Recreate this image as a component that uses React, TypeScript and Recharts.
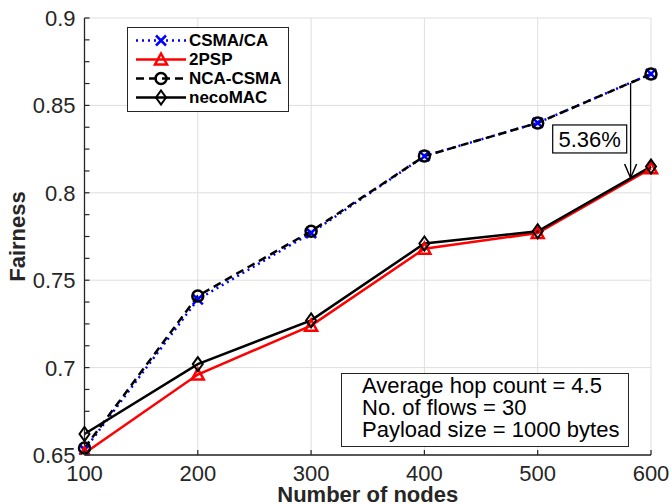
import React from "react";
import {
  LineChart,
  Line,
  XAxis,
  YAxis,
  CartesianGrid,
  Label,
  ReferenceLine,
  ReferenceDot,
} from "recharts";

const nodes = [100, 200, 300, 400, 500, 600];
const csmaCa = [0.653, 0.739, 0.777, 0.821, 0.84, 0.868];
const twoPsp = [0.651, 0.696, 0.724, 0.768, 0.777, 0.814];
const ncaCsma = [0.654, 0.741, 0.778, 0.821, 0.84, 0.868];
const necoMac = [0.662, 0.702, 0.727, 0.771, 0.778, 0.815];

const xTicks = [100, 200, 300, 400, 500, 600];
const yMajorTicks = [0.65, 0.7, 0.75, 0.8, 0.85, 0.9];
const yAllTicks = [
  0.65, 0.6625, 0.675, 0.6875, 0.7, 0.7125, 0.725, 0.7375, 0.75, 0.7625,
  0.775, 0.7875, 0.8, 0.8125, 0.825, 0.8375, 0.85, 0.8625, 0.875, 0.8875, 0.9,
];

const infoLines = [
  "Average hop count = 4.5",
  "No. of flows = 30",
  "Payload size = 1000 bytes",
];
const gainLabel = "5.36%";

const data = nodes.map((n, i) => ({
  nodes: n,
  csma: csmaCa[i],
  psp: twoPsp[i],
  nca: ncaCsma[i],
  neco: necoMac[i],
}));

const FONT = "'Liberation Sans', Arial, Helvetica, sans-serif";
const AXIS = "#262626";

const XMark = ({ cx, cy, color }: any) => (
  <g>
    <line x1={cx - 5} y1={cy - 5} x2={cx + 5} y2={cy + 5} stroke={color} strokeWidth={2.5} />
    <line x1={cx - 5} y1={cy + 5} x2={cx + 5} y2={cy - 5} stroke={color} strokeWidth={2.5} />
  </g>
);
const TriMark = ({ cx, cy, color }: any) => (
  <path
    d={`M${cx} ${cy - 6} L${cx + 6} ${cy + 5} L${cx - 6} ${cy + 5} Z`}
    fill="none"
    stroke={color}
    strokeWidth={2.5}
  />
);
const CircleMark = ({ cx, cy, color }: any) => (
  <circle cx={cx} cy={cy} r={5.5} fill="none" stroke={color} strokeWidth={2.5} />
);
const DiamondMark = ({ cx, cy, color }: any) => (
  <path
    d={`M${cx} ${cy - 7} L${cx + 5} ${cy} L${cx} ${cy + 7} L${cx - 5} ${cy} Z`}
    fill="none"
    stroke={color}
    strokeWidth={2}
  />
);

const series = [
  { key: "csma", name: "CSMA/CA", color: "#0000ff", dash: "2 4", Mark: XMark },
  { key: "psp", name: "2PSP", color: "#ff0000", dash: undefined, Mark: TriMark },
  { key: "nca", name: "NCA-CSMA", color: "#000000", dash: "8 5", Mark: CircleMark },
  { key: "neco", name: "necoMAC", color: "#000000", dash: undefined, Mark: DiamondMark },
];

const XTick = ({ x, y, payload }: any) => (
  <g>
    <line x1={x} y1={y} x2={x} y2={y - 5} stroke={AXIS} strokeWidth={1.2} />
    <text x={x} y={y + 26} textAnchor="middle" fontSize={22} fill={AXIS} fontFamily={FONT}>
      {payload.value}
    </text>
  </g>
);

const YTick = ({ x, y, payload }: any) => {
  const isMajor = yMajorTicks.some((v) => Math.abs(v - payload.value) < 1e-6);
  return (
    <g>
      <line x1={x} y1={y} x2={x + 5} y2={y} stroke={AXIS} strokeWidth={1.2} />
      {isMajor && (
        <text x={x - 9} y={y + 8} textAnchor="end" fontSize={22} fill={AXIS} fontFamily={FONT}>
          {payload.value}
        </text>
      )}
    </g>
  );
};

const Legend = () => (
  <div
    style={{
      position: "absolute",
      left: 127,
      top: 27,
      width: 160,
      height: 80,
      border: `1.3px solid ${AXIS}`,
      background: "#fff",
      paddingTop: 3,
      boxSizing: "content-box",
    }}
  >
    {series.map((s) => (
      <div key={s.key} style={{ display: "flex", alignItems: "center", height: 19 }}>
        <svg width={60} height={19} style={{ marginLeft: 7 }}>
          <line
            x1={1}
            y1={9.5}
            x2={51}
            y2={9.5}
            stroke={s.color}
            strokeWidth={2.5}
            strokeDasharray={s.dash}
          />
          <s.Mark cx={26} cy={9.5} color={s.color} />
        </svg>
        <span
          style={{
            fontFamily: FONT,
            fontWeight: "bold",
            fontSize: 17,
            color: "#000",
            marginLeft: -6,
            lineHeight: "19px",
          }}
        >
          {s.name}
        </span>
      </div>
    ))}
  </div>
);

const InfoBox = () => (
  <div
    style={{
      position: "absolute",
      left: 341,
      top: 373,
      width: 288,
      height: 74,
      border: `1.2px solid ${AXIS}`,
      background: "#fff",
      fontFamily: FONT,
      fontSize: 22,
      lineHeight: "22px",
      color: "#000",
      paddingLeft: 20,
      paddingTop: 1,
      boxSizing: "border-box",
    }}
  >
    {infoLines.map((l) => (
      <div key={l} style={{ whiteSpace: "nowrap" }}>
        {l}
      </div>
    ))}
  </div>
);

const App: React.FC = () => {
  return (
    <div style={{ position: "absolute", left: 0, top: 0, width: 672, height: 504, background: "#fff" }}>
      <LineChart
        width={672}
        height={504}
        data={data}
        margin={{ top: 18, right: 21, left: 0, bottom: 0 }}
      >
        <CartesianGrid
          stroke="#dedede"
          strokeWidth={1}
          horizontalValues={yMajorTicks}
          verticalValues={xTicks}
        />
        <XAxis
          dataKey="nodes"
          type="number"
          domain={[100, 600]}
          ticks={xTicks}
          height={49}
          tickSize={0}
          tickMargin={0}
          tickLine={false}
          tick={<XTick />}
          axisLine={{ stroke: AXIS, strokeWidth: 1.3 }}
          interval={0}
        >
          <Label
            content={({ viewBox }: any) => (
              <text
                x={viewBox.x + viewBox.width / 2}
                y={502}
                textAnchor="middle"
                fontSize={22}
                fontWeight="bold"
                fill={AXIS}
                fontFamily={FONT}
              >
                Number of nodes
              </text>
            )}
          />
        </XAxis>
        <YAxis
          type="number"
          domain={[0.65, 0.9]}
          ticks={yAllTicks}
          width={84.5}
          tickSize={0}
          tickMargin={0}
          tickLine={false}
          tick={<YTick />}
          axisLine={{ stroke: AXIS, strokeWidth: 1.3 }}
          interval={0}
          allowDataOverflow
        >
          <Label
            content={({ viewBox }: any) => {
              const cy = viewBox.y + viewBox.height / 2;
              return (
                <text
                  x={25}
                  y={cy}
                  transform={`rotate(-90 25 ${cy})`}
                  textAnchor="middle"
                  fontSize={22}
                  fontWeight="bold"
                  fill={AXIS}
                  fontFamily={FONT}
                >
                  Fairness
                </text>
              );
            }}
          />
        </YAxis>
        {series.map((s) => (
          <Line
            key={s.key}
            dataKey={s.key}
            name={s.name}
            stroke={s.color}
            strokeWidth={2.5}
            strokeDasharray={s.dash}
            isAnimationActive={false}
            dot={(p: any) => <s.Mark key={`${s.key}-${p.index}`} cx={p.cx} cy={p.cy} color={s.color} />}
            activeDot={false}
          />
        ))}
        <ReferenceLine
          segment={[
            { x: 582, y: 0.8628 },
            { x: 582, y: 0.8085 },
          ]}
          stroke="#000"
          strokeWidth={1.3}
        />
        <ReferenceDot
          x={582}
          y={0.8085}
          r={0}
          shape={(p: any) => (
            <path
              d={`M${p.cx - 6} ${p.cy - 14} L${p.cx} ${p.cy} L${p.cx + 6} ${p.cy - 14}`}
              fill="none"
              stroke="#000"
              strokeWidth={1.5}
            />
          )}
        />
        <ReferenceDot
          x={545.9}
          y={0.8308}
          r={0}
          shape={(p: any) => (
            <g>
              <rect x={p.cx - 37} y={p.cy - 14} width={74} height={28} fill="#fff" stroke="#000" strokeWidth={1.2} />
              <text x={p.cx} y={p.cy + 8} textAnchor="middle" fontSize={22} fill="#000" fontFamily={FONT}>
                {gainLabel}
              </text>
            </g>
          )}
        />
      </LineChart>
      <Legend />
      <InfoBox />
    </div>
  );
};

export default App;
